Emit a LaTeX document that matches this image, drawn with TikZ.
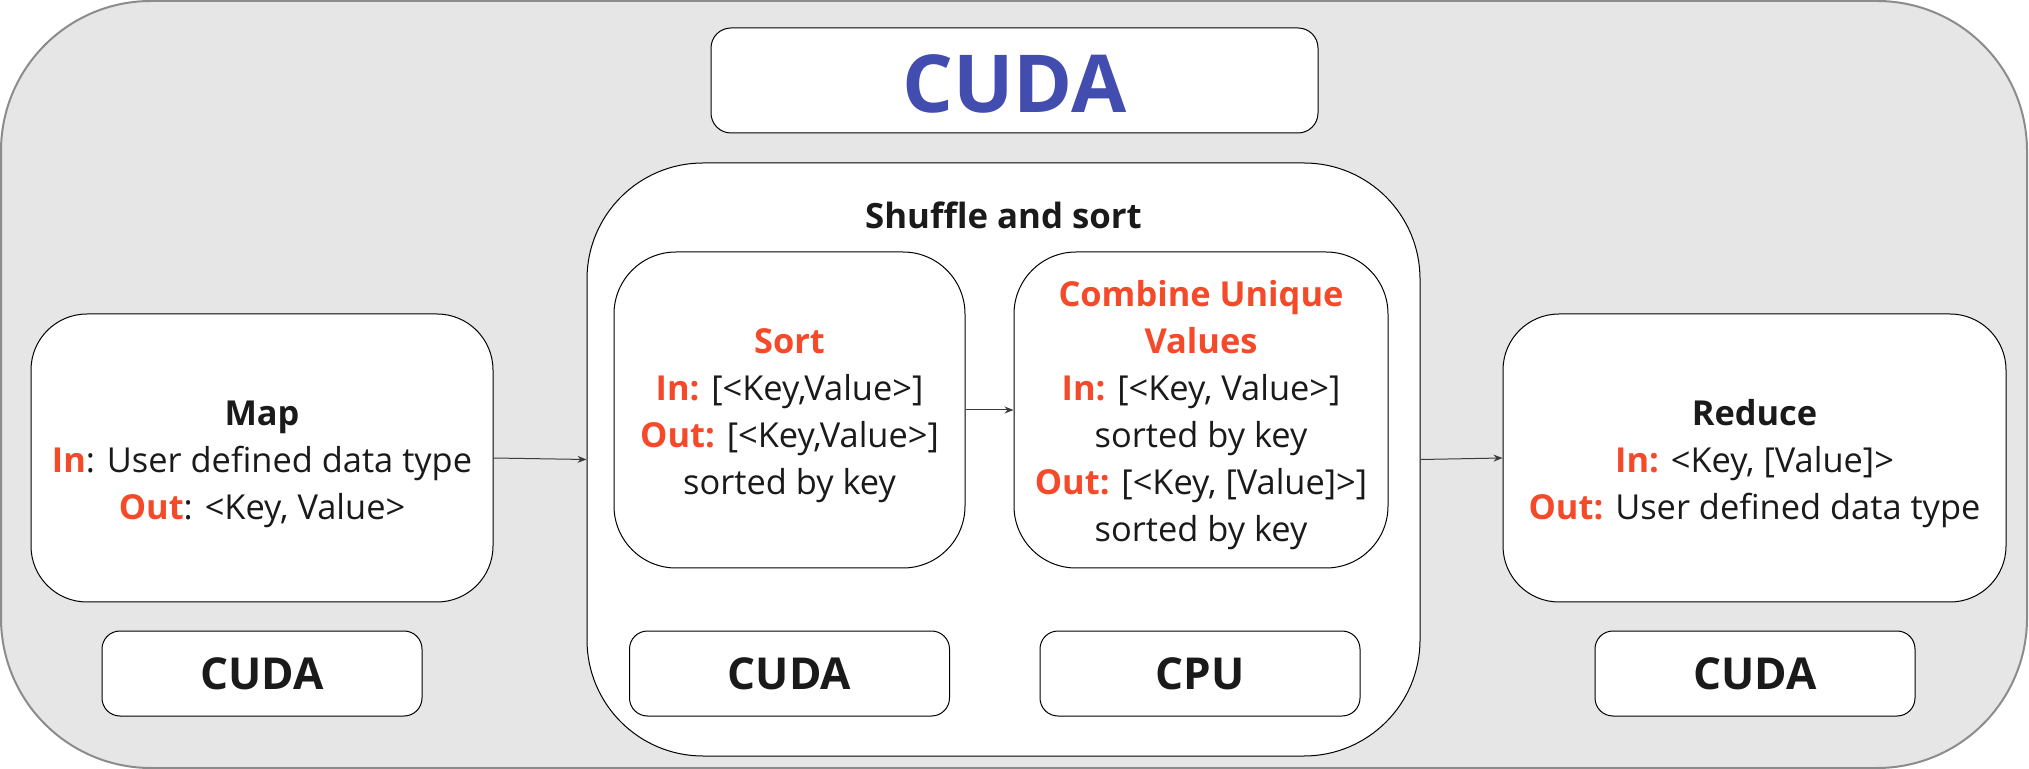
\documentclass[tikz,border=0pt]{standalone}
\usepackage{fontspec}
\setmainfont{Open Sans}
\usetikzlibrary{arrows.meta}
\definecolor{bg}{HTML}{E6E6E6}
\definecolor{bd}{HTML}{8C8C8C}
\definecolor{org}{HTML}{F44A2A}
\definecolor{blu}{HTML}{434CAF}
\definecolor{txt}{HTML}{1A1A1A}
\newcommand\hlt[1]{\textcolor{org}{\textbf{#1}}}
\begin{document}
\begin{tikzpicture}[x=0.5pt,y=-0.5pt,
  box/.style={draw=black, line width=0.5pt, fill=white, inner sep=0pt},
  bodytext/.style={inner sep=0pt, align=center, text=txt, font=\fontsize{17.2}{23.5}\selectfont},
  tagbox/.style={box, minimum width=160pt, minimum height=42.5pt, rounded corners=9pt,
    text=txt, font=\fontsize{22}{26}\selectfont\bfseries},
  flow/.style={-{Stealth[length=4.5pt,width=3.5pt]}, line width=0.5pt, draw=txt!85}
]
\useasboundingbox (0,0) rectangle (2029,769);
\node[box, draw=bd, line width=1pt, fill=bg, minimum width=1013pt, minimum height=383.5pt, rounded corners=75pt] (outer) at (1014,384.5) {};
\node[box, minimum width=303.5pt, minimum height=52.5pt, rounded corners=10pt] (title) at (1014.5,80.5) {};
\node[inner sep=0pt, text=blu, font=\fontsize{40}{44}\selectfont\bfseries] (titletxt) at ([yshift=-1.5pt]title.center) {CUDA};
\node[box, minimum width=416.5pt, minimum height=296.5pt, rounded corners=58pt] (shuffle) at (1003.5,459.5) {};
\node[anchor=base, inner sep=0pt, text=txt, font=\fontsize{17.4}{20}\selectfont\bfseries] (shtitle) at (1003.5,229) {Shuffle and sort};
\node[box, minimum width=175.5pt, minimum height=158pt, rounded corners=31pt] (sort) at (789.5,410) {};
\node[bodytext] (sorttxt) at ([yshift=-3pt]sort.center)
  {\hlt{Sort}\\\hlt{In:} [<Key,Value>]\\\hlt{Out:} [<Key,Value>]\\sorted by key};
\node[box, minimum width=187pt, minimum height=158pt, rounded corners=31pt] (combine) at (1201,410) {};
\node[bodytext] (combtxt) at ([yshift=-2.5pt]combine.center)
  {\hlt{Combine Unique}\\\hlt{Values}\\\hlt{In:} [<Key, Value>]\\sorted by key\\\hlt{Out:} [<Key, [Value]>]\\sorted by key};
\node[box, minimum width=231pt, minimum height=144pt, rounded corners=28pt] (map) at (262,458) {};
\node[bodytext] (maptxt) at ([yshift=-3pt]map.center)
  {\textbf{Map}\\\hlt{In}: User defined data type\\\hlt{Out}: <Key, Value>};
\node[box, minimum width=251.5pt, minimum height=144pt, rounded corners=28pt] (reduce) at (1754.5,458) {};
\node[bodytext] (redtxt) at ([yshift=-3pt]reduce.center)
  {\textbf{Reduce}\\\hlt{In:} <Key, [Value]>\\\hlt{Out:} User defined data type};
\node[tagbox] (mapdev) at (262,673.5) {CUDA};
\node[tagbox] (sortdev) at (789.5,673.5) {CUDA};
\node[tagbox] (combdev) at (1200,673.5) {CPU};
\node[tagbox] (reddev) at (1755,673.5) {CUDA};
\draw[flow] (map.east) -- (shuffle.west);
\draw[flow] (sort.east) -- (combine.west);
\draw[flow] (shuffle.east) -- (reduce.west);
\end{tikzpicture}
\end{document}
